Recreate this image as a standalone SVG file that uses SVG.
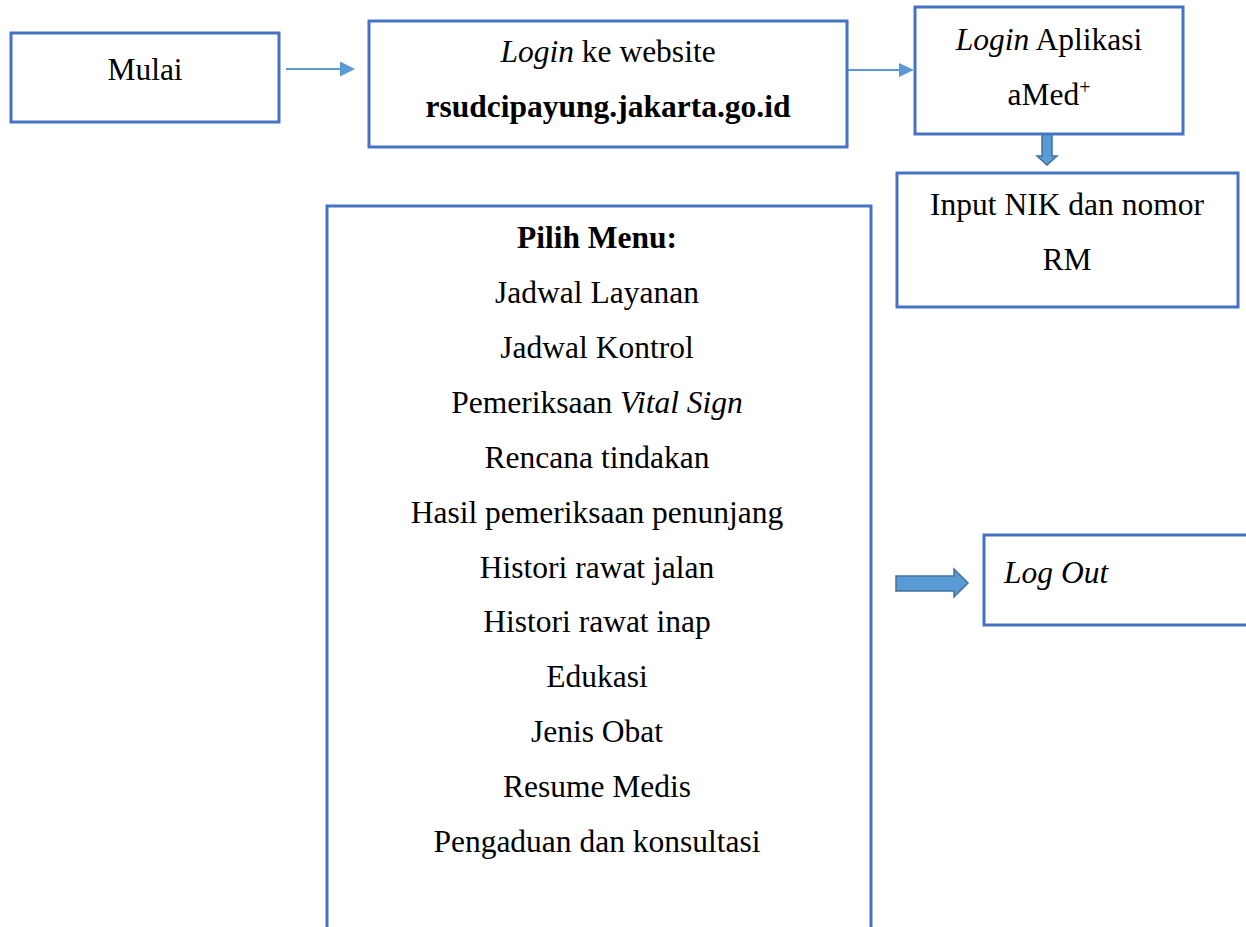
<svg xmlns="http://www.w3.org/2000/svg" width="1246" height="927" viewBox="0 0 1246 927">
<style>
.box{fill:#ffffff;stroke:#4472C4;stroke-width:3}
.t{font-family:"Liberation Serif","Times New Roman",serif;font-size:31.5px;fill:#000000}
.c{text-anchor:middle}
.b{font-weight:bold}
.i{font-style:italic}
.ln{stroke:#5B9BD5;stroke-width:2;fill:none}
.blk{fill:#5B9BD5;stroke:#41719C;stroke-width:1.5}
</style>
<rect width="1246" height="927" fill="#ffffff"/>
<g id="connectors">
<line class="ln" x1="286" y1="69" x2="341" y2="69"/>
<path d="M340,61.5 L355,69 L340,76.5 Z" fill="#5B9BD5"/>
<line class="ln" x1="848" y1="70" x2="900" y2="70"/>
<path d="M899,63 L914,70 L899,77 Z" fill="#5B9BD5"/>
<path class="blk" d="M1042,134 L1052,134 L1052,156 L1057,156 L1047,165 L1037,156 L1042,156 Z"/>
<path class="blk" d="M896,576 L954,576 L954,569 L968,583 L954,597 L954,591 L896,591 Z"/>
</g>
<g id="mulai">
<rect class="box" x="11" y="33" width="268" height="89"/>
<text class="t c" x="145" y="80">Mulai</text>
</g>
<g id="login-website">
<rect class="box" x="369" y="21" width="478" height="126"/>
<text class="t c" x="608" y="62"><tspan class="i">Login</tspan> ke website</text>
<text class="t c b" x="608" y="117">rsudcipayung.jakarta.go.id</text>
</g>
<g id="login-aplikasi">
<rect class="box" x="915" y="7" width="268" height="127"/>
<text class="t c" x="1049" y="50"><tspan class="i">Login</tspan> Aplikasi</text>
<text class="t c" x="1049" y="105">aMed<tspan font-size="20" dy="-11">+</tspan></text>
</g>
<g id="input-nik">
<rect class="box" x="897" y="173" width="341" height="134"/>
<text class="t c" x="1067" y="215">Input NIK dan nomor</text>
<text class="t c" x="1067" y="270">RM</text>
</g>
<g id="pilih-menu">
<path class="box" d="M327,930 L327,206 L871,206 L871,930"/>
<text class="t c b" x="597" y="248">Pilih Menu:</text>
<text class="t c" x="597" y="303">Jadwal Layanan</text>
<text class="t c" x="597" y="358">Jadwal Kontrol</text>
<text class="t c" x="597" y="413">Pemeriksaan <tspan class="i">Vital Sign</tspan></text>
<text class="t c" x="597" y="468">Rencana tindakan</text>
<text class="t c" x="597" y="523">Hasil pemeriksaan penunjang</text>
<text class="t c" x="597" y="578">Histori rawat jalan</text>
<text class="t c" x="597" y="632">Histori rawat inap</text>
<text class="t c" x="597" y="687">Edukasi</text>
<text class="t c" x="597" y="742">Jenis Obat</text>
<text class="t c" x="597" y="797">Resume Medis</text>
<text class="t c" x="597" y="852">Pengaduan dan konsultasi</text>
</g>
<g id="logout">
<rect class="box" x="984" y="535" width="280" height="90"/>
<text class="t i" x="1004" y="583">Log Out</text>
</g>
</svg>
